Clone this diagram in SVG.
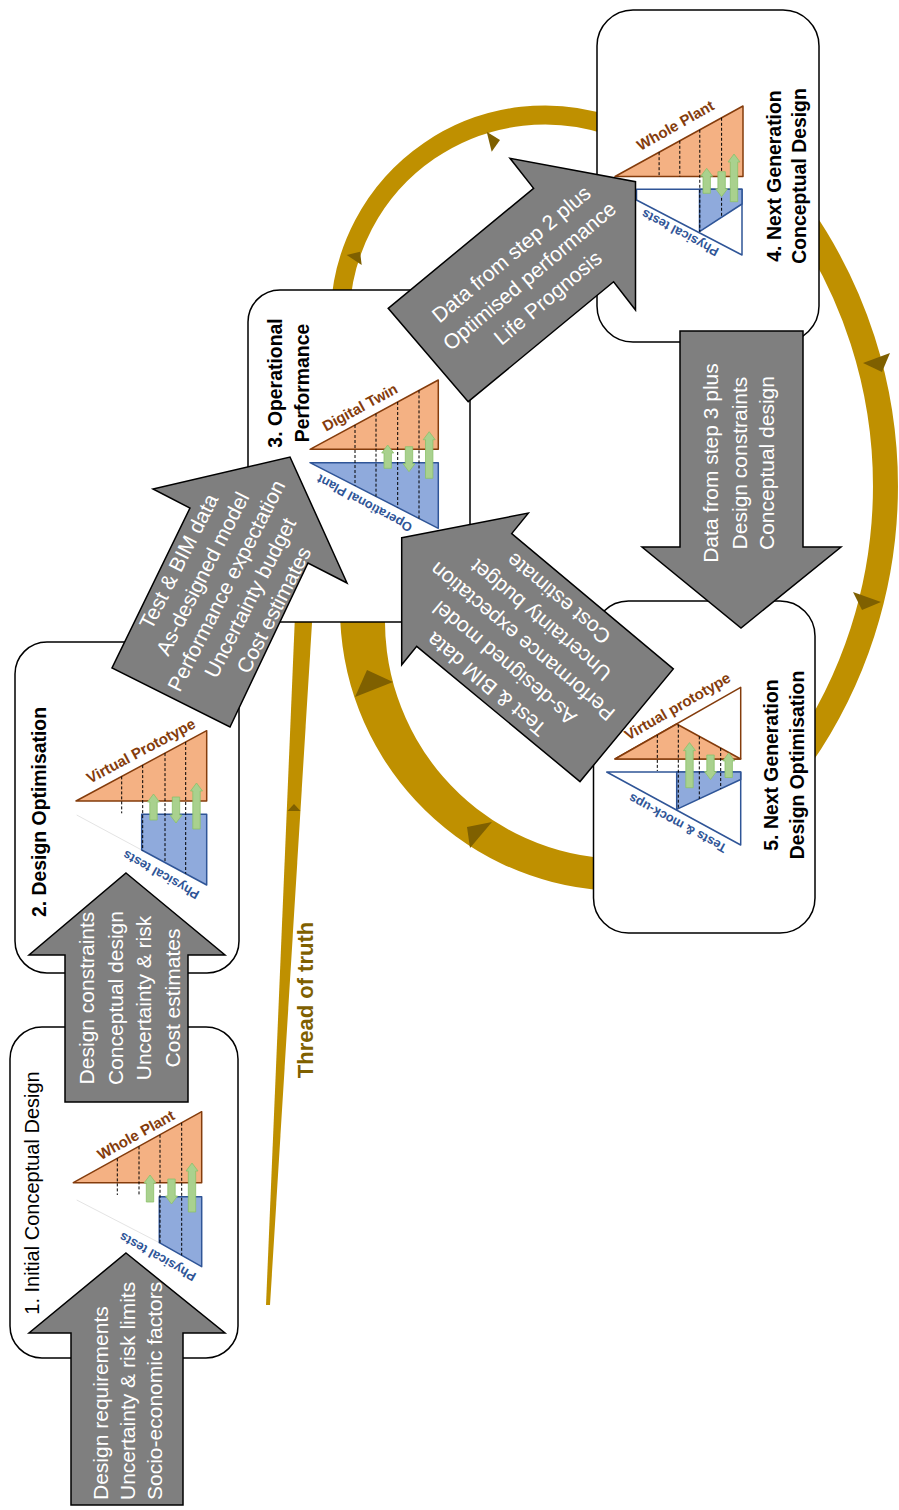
<svg xmlns="http://www.w3.org/2000/svg" width="899" height="1510" viewBox="0 0 899 1510">
<style>
text{font-family:"Liberation Sans",Arial,sans-serif}
.box{fill:#fff;stroke:#000;stroke-width:1.5}
.ga{fill:#7F7F7F;stroke:#000;stroke-width:1.5;stroke-linejoin:miter}
.at{font-size:21px;fill:#fff}
.tt{font-size:19.4px;font-weight:bold;fill:#000}
.t1{font-size:20px;fill:#000}
.or{fill:#F4B183;stroke:#843C0C;stroke-width:1.5;stroke-linejoin:round}
.ow{fill:#fff;stroke:#843C0C;stroke-width:1.5;stroke-linejoin:round}
.bl{fill:#8FAADC;stroke:#2F5597;stroke-width:1.5;stroke-linejoin:round}
.bw{fill:#fff;stroke:#2F5597;stroke-width:1.5;stroke-linejoin:round}
.fa{stroke:#E4E4E4;stroke-width:1;fill:none}
.ds{stroke:#000;stroke-width:1;stroke-dasharray:3 2;fill:none}
.gr{fill:#A9D18E;stroke:#8BC06A;stroke-width:0.8}
.lo{font-size:15px;font-weight:bold;fill:#843C0C}
.lb{font-size:12.8px;font-weight:bold;fill:#2F5597}
.gd{fill:none;stroke:#BF9000}
.gf{fill:#BF9000}
.mk{fill:#7F6000}
</style>
<rect width="899" height="1510" fill="#fff"/>
<g id="cycle">
<path class="gd" stroke-width="19" d="M340.2,310 A205,205 0 0 1 610,125.6"/>
<path class="gd" stroke-width="25" d="M800,214 A475.5,475.5 0 0 1 800,758"/>
<path class="gf" d="M340,605 A283,283 0 0 0 605,890.4 L605,858.3 A238,238 0 0 1 385.5,605 Z"/>
<polygon class="gf" points="295,615 312.5,615 270,1305 266,1305"/>
<polygon class="mk" points="486.7,131.7 500,140 491.7,151.7"/>
<polygon class="mk" points="346.7,255 360,251.7 361.7,265"/>
<polygon class="mk" points="863,363 890,353 882,372"/>
<polygon class="mk" points="853,592 881,602 862,610"/>
<polygon class="mk" points="355,697 367,670 393,682"/>
<polygon class="mk" points="467,827 492,822 470,848"/>
<polygon class="mk" points="287.5,811 300.5,811 294,804"/>
<text transform="translate(313,1000) rotate(-90)" text-anchor="middle" style="font-size:22px;font-weight:bold;fill:#7F6000">Thread of truth</text>
</g>
<g id="node1">
<rect class="box" x="10" y="1027" width="228" height="331" rx="32"/>
<text class="t1" transform="translate(39,1193) rotate(-90)" text-anchor="middle">1. Initial Conceptual Design</text>
<polygon class="or" points="73.3,1182.7 201.7,1111.7 201.7,1182.7"/>
<line class="fa" x1="76.7" y1="1200" x2="159.3" y2="1242.7"/>
<polygon class="bl" points="159.3,1196.7 201.7,1196.7 201.7,1266.7 159.3,1242.7"/>
<path class="ds" d="M117.3,1158.4V1195M139,1146.4V1195M160,1134.8V1243M181.7,1122.8V1255.4"/>
<text class="lo" transform="translate(136,1135) rotate(-29)" text-anchor="middle" y="5">Whole Plant</text>
<text class="lb" transform="translate(157.5,1257) rotate(209.4)" text-anchor="middle" y="4.5">Physical tests</text>
<path class="gr" d="M150,1175l6,8h-2.3V1202h-7.4V1183h-2.3z M171.5,1204l6,-8h-2.3V1179h-7.4V1196h-2.3z M192,1163l6,8h-2.3V1212h-7.4V1171h-2.3z"/>
</g>
<g id="node2">
<rect class="box" x="15" y="642" width="224" height="331" rx="32"/>
<text class="tt" transform="translate(46,812) rotate(-90)" text-anchor="middle">2. Design Optimisation</text>
<polygon class="or" points="76,801 206.7,730.7 206.7,801"/>
<line class="fa" x1="76.7" y1="815" x2="141.7" y2="850"/>
<polygon class="bl" points="141.7,814.3 206.7,814.3 206.7,885 141.7,850"/>
<path class="ds" d="M121.7,776.4V813.3M142.7,765.1V850.5M165,753.1V862.5M185.7,742V873.6"/>
<text class="lo" transform="translate(141,751) rotate(-28)" text-anchor="middle" y="5">Virtual Prototype</text>
<text class="lb" transform="translate(161,875) rotate(209.5)" text-anchor="middle" y="4.5">Physical tests</text>
<path class="gr" d="M153.5,794l6,8h-2.3V820h-7.4V802h-2.3z M176,823l6,-8h-2.3V797h-7.4V815h-2.3z M196.5,783l6,8h-2.3V829h-7.4V791h-2.3z"/>
</g>
<g id="node3">
<rect class="box" x="248" y="290" width="222" height="332" rx="32"/>
<text class="tt" transform="translate(282,383) rotate(-90)" text-anchor="middle"><tspan x="0" y="0">3. Operational</tspan><tspan x="0" y="27">Performance</tspan></text>
<polygon class="or" points="310,449.3 438.3,380 438.3,449.3"/>
<polygon class="bl" points="310,462.7 438.3,462.7 438.3,528.3"/>
<path class="ds" d="M355,425V485.7M376,413.7V496.4M397.7,402V507.5M419,390.4V518.4"/>
<text class="lo" transform="translate(360,407.5) rotate(-28.5)" text-anchor="middle" y="5">Digital Twin</text>
<text class="lb" transform="translate(364.5,503.5) rotate(208.5)" text-anchor="middle" y="4.5">Operational Plant</text>
<path class="gr" d="M387.7,445l6,8h-2.3V468.3h-7.4V453h-2.3z M409,471.7l6,-8h-2.3V446.7h-7.4V463.7h-2.3z M429.2,431.7l6,8h-2.3V478.3h-7.4V439.7h-2.3z"/>
</g>
<g id="node4">
<rect class="box" x="597" y="10" width="222" height="332" rx="36"/>
<text class="tt" transform="translate(780.5,176) rotate(-90)" text-anchor="middle"><tspan x="0" y="0">4. Next Generation</tspan><tspan x="0" y="25.5">Conceptual Design</tspan></text>
<polygon class="or" points="615,176.5 743,106 743,176.5"/>
<polygon class="bw" points="636.5,189.3 742,189.3 742,255 636.5,200"/>
<polygon class="bl" points="699.5,189.3 742,189.3 742,204 699.5,231.7"/>
<path class="ds" d="M659.1,152.2V176.5M679.8,140.8V176.5M699.8,129.8V231.7M721.6,117.8V217"/>
<text class="lo" transform="translate(675.5,125.5) rotate(-29.5)" text-anchor="middle" y="5">Whole Plant</text>
<text class="lb" transform="translate(680,233) rotate(208)" text-anchor="middle" y="4.5">Physical tests</text>
<path class="gr" d="M706.7,168.3l6,8h-2.3V193.3h-7.4V176.3h-2.3z M721.6,196.7l6,-8h-2.3V171.7h-7.4V188.7h-2.3z M734,154l6,8h-2.3V201.7h-7.4V162h-2.3z"/>
</g>
<g id="node5">
<rect class="box" x="593.5" y="601" width="221.5" height="332" rx="35"/>
<text class="tt" transform="translate(777.5,765) rotate(-90)" text-anchor="middle"><tspan x="0" y="0">5. Next Generation</tspan><tspan x="0" y="26.5">Design Optimisation</tspan></text>
<polygon class="ow" points="615,759 740.7,687.3 740.7,759"/>
<polygon class="or" points="615,759 676.7,724 740.7,759"/>
<polygon class="bw" points="606.7,772 740.7,772 740.7,845"/>
<polygon class="bl" points="676.7,772 740.7,772 740.7,779.5 676.7,809.4"/>
<path class="ds" d="M657.3,734.9V771M678.3,724.7V808.7M699.3,736.4V798.8M720.7,748V788.8"/>
<text class="lo" transform="translate(677.5,706.5) rotate(-30)" text-anchor="middle" y="5">Virtual prototype</text>
<text class="lb" transform="translate(677.5,823.5) rotate(208.5)" text-anchor="middle" y="4.5">Tests &amp; mock-ups</text>
<path class="gr" d="M689.5,742.6l6,8h-2.3V787.7h-7.4V750.6h-2.3z M710.5,779.5l6,-8h-2.3V755h-7.4V771.5h-2.3z M728.7,752.9l6,8h-2.3V777.5h-7.4V760.9h-2.3z"/>
</g>
<g id="connectors">
<g id="arrow-input">
<path class="ga" d="M126,1253 L225,1333 L183,1333 L183,1505 L71,1505 L71,1333 L29,1333 Z"/>
<text class="at" transform="translate(108,1500) rotate(-90)">Design requirements</text>
<text class="at" transform="translate(135,1500) rotate(-90)">Uncertainty &amp; risk limits</text>
<text class="at" transform="translate(162,1500) rotate(-90)">Socio-economic factors</text>
</g>
<g id="arrow-1-2">
<path class="ga" d="M126,873 L225,955 L188,955 L188,1102 L65,1102 L65,955 L29,955 Z"/>
<text class="at" transform="translate(94,998) rotate(-90)" text-anchor="middle"><tspan x="0" y="0">Design constraints</tspan><tspan x="0" y="28.5">Conceptual design</tspan><tspan x="0" y="57">Uncertainty &amp; risk</tspan><tspan x="0" y="85.5">Cost estimates</tspan></text>
</g>
<g id="arrow-2-3">
<path class="ga" d="M290,457 L347,583 L308,563 L230,727 L112,668 L190,508 L153,489 Z"/>
<text class="at" transform="translate(227,586) rotate(-63)" text-anchor="middle"><tspan x="0" y="-46.9">Test &amp; BIM data</tspan><tspan x="0" y="-20.2">As-designed model</tspan><tspan x="0" y="6.5">Performance expectation</tspan><tspan x="0" y="33.2">Uncertainty budget</tspan><tspan x="0" y="59.9">Cost estimates</tspan></text>
</g>
<g id="arrow-3-4">
<path class="ga" d="M635.5,181.7 L635.5,310 L613.6,281.7 L468.2,401.7 L388.2,308.3 L533.6,188.3 L510,158.3 Z"/>
<text class="at" transform="translate(530,276.5) rotate(-40)" text-anchor="middle"><tspan x="0" y="-22">Data from step 2 plus</tspan><tspan x="0" y="6.5">Optimised performance</tspan><tspan x="0" y="35">Life Prognosis</tspan></text>
</g>
<g id="arrow-4-5">
<path class="ga" d="M680,331 L803,331 L803,547 L841,547 L741,628 L642,547 L680,547 Z"/>
<text class="at" transform="translate(718,463) rotate(-90)" text-anchor="middle"><tspan x="0" y="0">Data from step 3 plus</tspan><tspan x="0" y="28.5">Design constraints</tspan><tspan x="0" y="55.5">Conceptual design</tspan></text>
</g>
<g id="arrow-5-3">
<path class="ga" d="M401.7,537.7 L528.3,513.1 L511.7,533.6 L673.3,668.9 L580,781.6 L416.7,646.3 L401.7,664.8 Z"/>
<text class="at" transform="translate(523,641) rotate(220)" text-anchor="middle"><tspan x="0" y="-49.5">Test &amp; BIM data</tspan><tspan x="0" y="-21.5">As-designed model</tspan><tspan x="0" y="6.5">Performance expectation</tspan><tspan x="0" y="34.5">Uncertainty budget</tspan><tspan x="0" y="62.5">Cost estimate</tspan></text>
</g>
</g>
</svg>
